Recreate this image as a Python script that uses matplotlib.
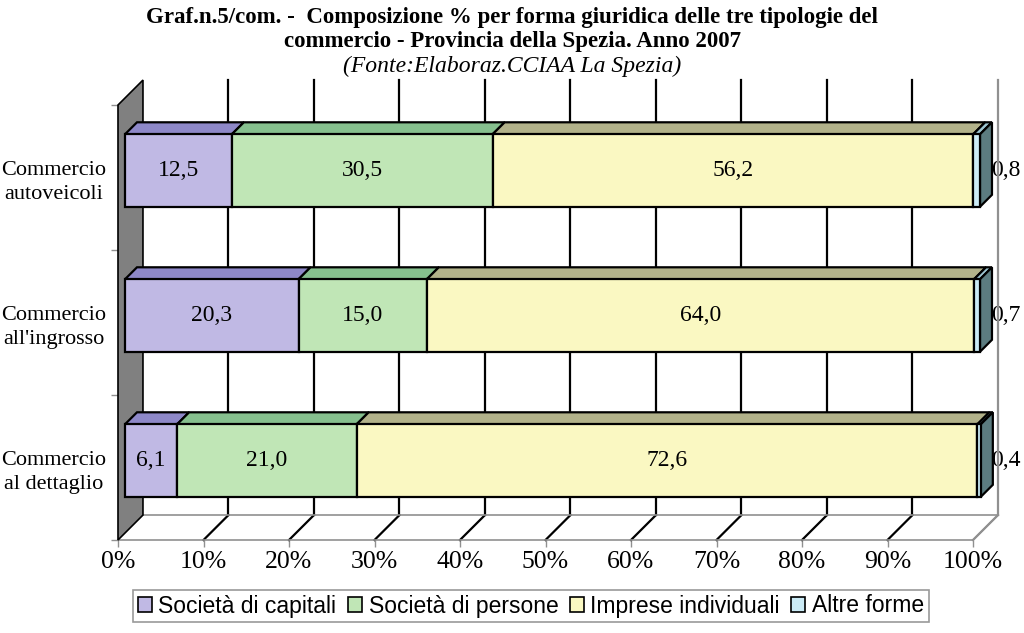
import matplotlib
matplotlib.use('Agg')
import matplotlib.pyplot as plt
from matplotlib.patches import Polygon, Patch

categories = ['Commercio\nal dettaglio', "Commercio\nall'ingrosso", 'Commercio\nautoveicoli']
capitali = [6.1, 20.3, 12.5]
persone = [21.0, 15.0, 30.5]
individuali = [72.6, 64.0, 56.2]
altre = [0.4, 0.7, 0.8]
series_names = ['Società di capitali', 'Società di persone', 'Imprese individuali', 'Altre forme']
xtick_labels = ['0%', '10%', '20%', '30%', '40%', '50%', '60%', '70%', '80%', '90%', '100%']

front_cols = ['#C0B9E4', '#C0E6B6', '#FAF8C2', '#CBEBF6']
top_cols = ['#8E88C8', '#86C08E', '#B2B28A', '#9CC4D0']
side_col = '#5C7C80'

serif = 'Liberation Serif'
sans = 'Liberation Sans'

# 3d depth in data units
DX, DY = 2.92, 0.172
F0, F1 = 0.28, 0.76
H = 0.5

fig = plt.figure(figsize=(10.24, 6.33), dpi=100)
ax = fig.add_axes([118 / 1024, 93 / 633, 855 / 1024, 435 / 633])
ax.set_xlim(0, 100)
ax.set_ylim(-0.5, 2.5)
for s in ax.spines.values():
    s.set_visible(False)

# back wall
ax.add_patch(Polygon([(DX, -0.5 + DY), (100 + DX, -0.5 + DY), (100 + DX, 2.5 + DY), (DX, 2.5 + DY)],
                     closed=True, facecolor='white', edgecolor='none', zorder=1, clip_on=False))
for x in range(10, 101, 10):
    c = '#909090' if x == 100 else 'black'
    ax.plot([x + DX, x + DX], [-0.5 + DY, 2.5 + DY], color=c, lw=1.6, zorder=2, clip_on=False)
    ax.plot([x, x + DX], [-0.5, -0.5 + DY], color=c, lw=1.6, zorder=2, clip_on=False)
# floor edges
ax.plot([0, 100, 100 + DX], [-0.5, -0.5, -0.5 + DY], color='#909090', lw=1.2, zorder=2, clip_on=False)
ax.plot([DX, 100 + DX], [-0.5 + DY, -0.5 + DY], color='#909090', lw=1.2, zorder=2, clip_on=False)
# left wall
ax.add_patch(Polygon([(0, -0.5), (DX, -0.5 + DY), (DX, 2.5 + DY), (0, 2.5)],
                     closed=True, facecolor='#808080', edgecolor='black', lw=1.2, zorder=3, clip_on=False))

# bars
series = [capitali, persone, individuali, altre]
for i in range(len(categories)):
    left = 0
    for k, vals in enumerate(series):
        v = vals[i]
        y0 = i - H / 2 + F0 * DY
        ax.barh(i + F0 * DY, v, height=H, left=left + F0 * DX, color=front_cols[k],
                edgecolor='black', lw=1.6, zorder=5, clip_on=False)
        top = [(left + F0 * DX, y0 + H), (left + v + F0 * DX, y0 + H),
               (left + v + F1 * DX, y0 + H + (F1 - F0) * DY), (left + F1 * DX, y0 + H + (F1 - F0) * DY)]
        ax.add_patch(Polygon(top, closed=True, facecolor=top_cols[k], edgecolor='black',
                             lw=1.6, zorder=4, clip_on=False))
        if k < 3:
            ax.text(left + v / 2 + F0 * DX, i + F0 * DY, f'{v:.1f}'.replace('.', ','),
                    ha='center', va='center', fontsize=17, family=serif, zorder=6)
        left += v
    side = [(left + F0 * DX, y0), (left + F0 * DX, y0 + H),
            (left + F1 * DX, y0 + H + (F1 - F0) * DY), (left + F1 * DX, y0 + (F1 - F0) * DY)]
    ax.add_patch(Polygon(side, closed=True, facecolor=side_col, edgecolor='black',
                         lw=1.6, zorder=4, clip_on=False))
    ax.text(105.6, i + F0 * DY, f'{altre[i]:.1f}'.replace('.', ','), ha='right', va='center',
            fontsize=17, family=serif, zorder=1)

ax.set_xticks(range(0, 101, 10))
ax.set_xticklabels(xtick_labels, fontsize=18.5, family=serif)
ax.set_yticks([0, 1, 2])
ax.set_yticklabels(categories, fontsize=16, family=serif, multialignment='center', linespacing=1.35)
ax.set_yticks([-0.5, 0.5, 1.5, 2.5], minor=True)
ax.tick_params(axis='x', length=5, width=1, color='#909090', pad=3)
ax.tick_params(axis='y', which='major', length=0, pad=8.6)
ax.tick_params(axis='y', which='minor', length=5, width=1, color='#909090')

fig.text(0.5, 1 - 17 / 633, 'Graf.n.5/com. -  Composizione % per forma giuridica delle tre tipologie del',
         ha='center', va='center', fontsize=16.5, fontweight='bold', family=serif)
fig.text(0.5, 1 - 42 / 633, 'commercio - Provincia della Spezia. Anno 2007',
         ha='center', va='center', fontsize=16.5, fontweight='bold', family=serif)
fig.text(0.5, 1 - 66 / 633, '(Fonte:Elaboraz.CCIAA La Spezia)',
         ha='center', va='center', fontsize=17, style='italic', family=serif)

handles = [Patch(facecolor=c, edgecolor='black', lw=1.2) for c in front_cols]
leg = fig.legend(handles, series_names, loc='center', bbox_to_anchor=(531 / 1024, 1 - 606 / 633),
                 ncol=4, frameon=True, fancybox=False, edgecolor='#808080',
                 prop={'family': sans, 'size': 16.5}, handlelength=0.6, handleheight=0.6,
                 handletextpad=0.3, columnspacing=0.5, borderpad=0.2, borderaxespad=0)
leg.get_frame().set_linewidth(1.2)

fig.savefig('out.png', dpi=100)
